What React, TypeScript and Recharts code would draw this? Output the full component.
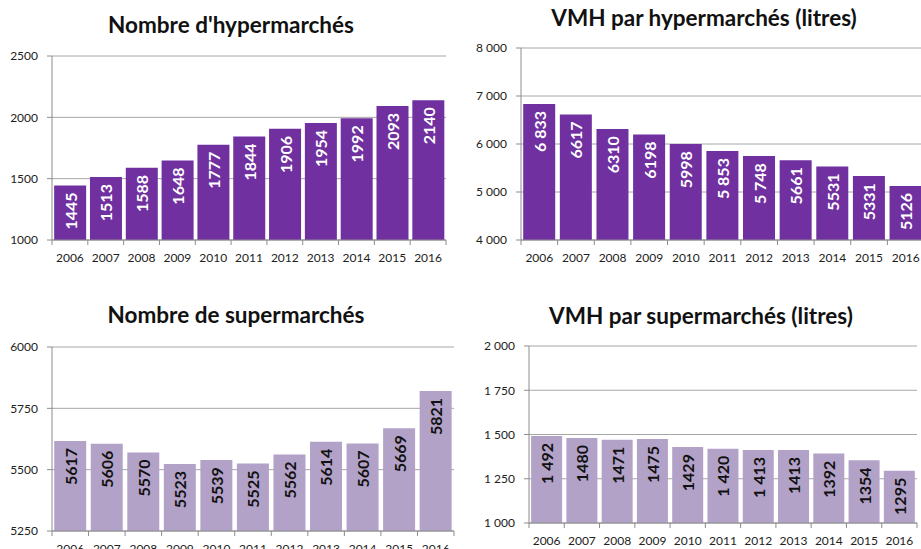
import React from 'react';
import { BarChart, Bar, XAxis, YAxis, CartesianGrid, LabelList } from 'recharts';

const YEARS = ['2006', '2007', '2008', '2009', '2010', '2011', '2012', '2013', '2014', '2015', '2016'];

const HYPER_COUNT = [1445, 1513, 1588, 1648, 1777, 1844, 1906, 1954, 1992, 2093, 2140];
const HYPER_COUNT_LABELS = ['1445', '1513', '1588', '1648', '1777', '1844', '1906', '1954', '1992', '2093', '2140'];
const HYPER_COUNT_TICKS = [1000, 1500, 2000, 2500];

const HYPER_VMH = [6833, 6617, 6310, 6198, 5998, 5853, 5748, 5661, 5531, 5331, 5126];
const HYPER_VMH_LABELS = ['6 833', '6617', '6310', '6198', '5998', '5 853', '5 748', '5661', '5531', '5331', '5126'];
const HYPER_VMH_TICKS = [4000, 5000, 6000, 7000, 8000];

const SUPER_COUNT = [5617, 5606, 5570, 5523, 5539, 5525, 5562, 5614, 5607, 5669, 5821];
const SUPER_COUNT_LABELS = ['5617', '5606', '5570', '5523', '5539', '5525', '5562', '5614', '5607', '5669', '5821'];
const SUPER_COUNT_TICKS = [5250, 5500, 5750, 6000];

const SUPER_VMH = [1492, 1480, 1471, 1475, 1429, 1420, 1413, 1413, 1392, 1354, 1295];
const SUPER_VMH_LABELS = ['1 492', '1480', '1471', '1475', '1429', '1 420', '1 413', '1413', '1392', '1354', '1295'];
const SUPER_VMH_TICKS = [1000, 1250, 1500, 1750, 2000];

const DARK = '#7030A0';
const LIGHT = '#B3A2C7';
const GRID = '#a6a6a6';
const AXIS = '#8c8c8c';
const FONT = 'Lato, "Open Sans", sans-serif';

const spaced = (v: number) => String(v).replace(/\B(?=(\d{3})+(?!\d))/g, ' ');
const plain = (v: number) => String(v);

function XTick(props: any) {
  const { x, y, payload } = props;
  const half = payload.offset ?? 18;
  const last = payload.value === YEARS[YEARS.length - 1];
  return (
    <g>
      <line x1={x - half} x2={x - half} y1={y} y2={y + 5} stroke={AXIS} />
      {last && <line x1={x + half} x2={x + half} y1={y} y2={y + 5} stroke={AXIS} />}
      <text x={x} y={y + 22} textAnchor="middle" fontSize={12} fontFamily={FONT} fill="#222">
        {payload.value}
      </text>
    </g>
  );
}

function makeLabel(color: string) {
  return (props: any) => {
    const { x, y, width, value } = props;
    const cx = x + width / 2;
    const cy = y + 7;
    return (
      <text
        x={cx}
        y={cy}
        transform={`rotate(-90, ${cx}, ${cy})`}
        textAnchor="end"
        dominantBaseline="central"
        fontSize={16}
        fontWeight="bold"
        fontFamily={FONT}
        fill={color}
      >
        {value}
      </text>
    );
  };
}

interface PanelProps {
  left: number;
  top: number;
  width: number;
  height: number;
  margin: { top: number; right: number; bottom: number; left: number };
  yWidth: number;
  title: string;
  titleX: number;
  titleY: number;
  values: number[];
  labels: string[];
  ticks: number[];
  fmt: (v: number) => string;
  color: string;
  labelColor: string;
}

function Panel(p: PanelProps) {
  const data = YEARS.map((year, i) => ({ year, value: p.values[i], label: p.labels[i] }));
  return (
    <>
      <div
        style={{
          position: 'absolute', left: p.titleX - 200, top: p.titleY - 13, width: 400, textAlign: 'center',
          fontFamily: FONT, fontWeight: 'bold', fontSize: 22.5, lineHeight: '26px', color: '#111',
        }}
      >
        {p.title}
      </div>
      <div style={{ position: 'absolute', left: p.left, top: p.top }}>
        <BarChart width={p.width} height={p.height} data={data} margin={p.margin} barCategoryGap="6%">
          <CartesianGrid vertical={false} stroke={GRID} />
          <XAxis dataKey="year" height={30} stroke={AXIS} tickLine={false} tickSize={0} tickMargin={0} tick={<XTick />} interval={0} />
          <YAxis
            width={p.yWidth}
            domain={[p.ticks[0], p.ticks[p.ticks.length - 1]]}
            ticks={p.ticks}
            tickFormatter={p.fmt}
            stroke={AXIS}
            tickSize={5}
            tickMargin={9}
            tick={{ fontSize: 12, fontFamily: FONT, fill: '#222' }}
          />
          <Bar dataKey="value" fill={p.color} isAnimationActive={false}>
            <LabelList dataKey="label" content={makeLabel(p.labelColor)} />
          </Bar>
        </BarChart>
      </div>
    </>
  );
}

export default function App() {
  return (
    <div style={{ position: 'absolute', left: 0, top: 0, width: 921, height: 549, overflow: 'hidden', background: '#fff' }}>
      <Panel
        left={0} top={0} width={460} height={290}
        margin={{ top: 56, right: 14, bottom: 20, left: 0 }} yWidth={52}
        title="Nombre d'hypermarchés" titleX={231} titleY={25}
        values={HYPER_COUNT} labels={HYPER_COUNT_LABELS} ticks={HYPER_COUNT_TICKS} fmt={plain}
        color={DARK} labelColor="#fff"
      />
      <Panel
        left={460} top={0} width={470} height={290}
        margin={{ top: 48, right: 6, bottom: 20, left: 0 }} yWidth={61}
        title="VMH par hypermarchés (litres)" titleX={704} titleY={18}
        values={HYPER_VMH} labels={HYPER_VMH_LABELS} ticks={HYPER_VMH_TICKS} fmt={spaced}
        color={DARK} labelColor="#fff"
      />
      <Panel
        left={0} top={290} width={460} height={290}
        margin={{ top: 57, right: 6, bottom: 19, left: 0 }} yWidth={52}
        title="Nombre de supermarchés" titleX={236} titleY={315}
        values={SUPER_COUNT} labels={SUPER_COUNT_LABELS} ticks={SUPER_COUNT_TICKS} fmt={plain}
        color={LIGHT} labelColor="#111"
      />
      <Panel
        left={460} top={290} width={461} height={290}
        margin={{ top: 56, right: 4, bottom: 27, left: 0 }} yWidth={69}
        title="VMH par supermarchés (litres)" titleX={701} titleY={316}
        values={SUPER_VMH} labels={SUPER_VMH_LABELS} ticks={SUPER_VMH_TICKS} fmt={spaced}
        color={LIGHT} labelColor="#111"
      />
    </div>
  );
}
